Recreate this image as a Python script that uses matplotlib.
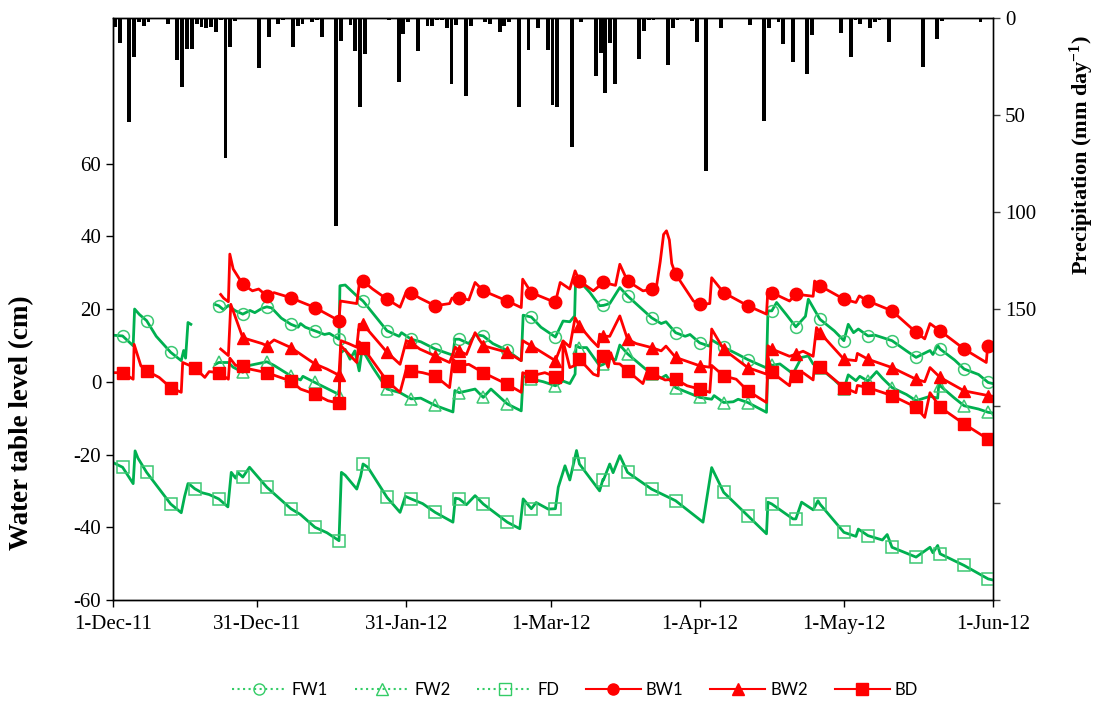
import numpy as np
import matplotlib
matplotlib.use("Agg")
import matplotlib.pyplot as plt
from matplotlib.lines import Line2D

plt.rcParams['font.family'] = ['Liberation Serif', 'DejaVu Serif']
plt.rcParams['mathtext.fontset'] = 'custom'
plt.rcParams['mathtext.rm'] = 'Liberation Serif:bold'
plt.rcParams['mathtext.default'] = 'rm'
plt.rcParams['axes.unicode_minus'] = False

# daily precipitation (mm/day), days counted from 1-Dec-2011
rain_day = [0, 1, 3, 4, 5, 6, 7, 11, 13, 14, 15, 16, 17, 18, 19, 20, 21, 22, 23, 24, 25,
            30, 32, 34, 35, 37, 38, 39, 41, 42, 43, 46, 47, 49, 50, 51, 52, 57, 59, 60, 61,
            63, 65, 66, 67, 68, 69, 70, 71, 73, 74, 77, 78, 80, 81, 82, 84, 86, 88, 90, 91,
            92, 95, 97, 100, 101, 102, 103, 104, 109, 110, 111, 112, 115, 116, 117, 120, 121,
            123, 126, 132, 135, 136, 138, 139, 141, 144, 145, 151, 153, 154, 155, 157, 158,
            159, 161, 168, 171, 172, 177, 178, 180]
rain_mm = [4.5, 13, 53.6, 20, 2, 4, 2, 3, 21.6, 35.5, 16, 16, 3, 4.5, 5, 4.5, 7, 1, 72, 15, 1.5,
           26, 10, 3, 1, 15, 4, 3, 2, 1, 10, 107, 12, 3.5, 17, 46, 18.5, 1, 33, 8, 2,
           17, 4, 4, 1, 1, 5, 34, 3.5, 40, 4, 2, 3, 7, 4, 2, 46, 16.5, 5, 16.5, 45,
           46, 66.5, 2, 30, 18, 38.6, 13, 34, 21, 6.5, 1, 1, 24, 5, 1, 1.5, 12.5,
           79, 5, 3.5, 53, 5, 2, 13.5, 22.5, 29, 9, 7.5, 20, 1, 3, 5, 2,
           1, 12.5, 25, 11, 1.5, 0.5, 0.5, 2]

# water table level (cm) at breakpoints of each well record
fw1_day = [0, 2, 4.2, 4.5, 5.5, 7, 9, 12, 14.2, 14.7, 15.1, 15.6, 16.2, np.nan,
           21.1, 22, 23, 24, 24.6, 25.5, 27, 28.5, 29.5, 31, 32, 33, 35, 37, 38.5, 39, 40, 42,
           44, 45, 47, 47.2, 48.3, 50.7, 52, 57, 59.5, 60, 62, 64, 67, 70.7, 71.1, 72, 74,
           75.3, 77, 79, 82, 84.9, 85.3, 87, 89, 92, 93.6, 95, 96, 96.2, 97, 99.2, 101.2, 102,
           103.3, 105.4, 107, 112, 114, 115, 117, 119, 120, 122, 124, 124.5, 127, 130, 132,
           135.9, 136.2, 137, 138, 140, 142, 144, 144.6, 147, 150, 152, 152.9, 154, 155, 157,
           158.5, 162, 165, 167, 169.9, 170.5, 171.5, 172, 175, 177, 180, 182, 183]
fw1_lvl = [12.8, 12.6, 9.9, 20.0, 18.5, 16.8, 12.5, 8.1, 5.8, 8.6, 6.5, 16.3, 15.8, np.nan,
           21.3, 20.9, 19.8, 21.0, 20.3, 19.5, 18.6, 19.6, 19.0, 20.2, 20.6, 20.3, 17.5, 15.8, 15.0, 16.0, 15.0, 14.0,
           13.0, 13.3, 11.7, 26.4, 26.6, 23.6, 22.2, 14.0, 12.5, 13.5, 11.7, 11.0, 9.0, 7.3, 11.7, 11.7, 10.5,
           13.0, 12.6, 10.5, 8.6, 5.8, 18.3, 17.8, 15.0, 12.3, 16.7, 16.5, 18.1, 28.0, 27.7, 24.5, 20.9, 21.0,
           21.5, 25.9, 23.6, 17.6, 16.0, 16.5, 13.5, 12.5, 13.0, 10.7, 9.8, 11.5, 9.5, 7.5, 6.1,
           3.8, 19.5, 19.5, 21.8, 18.5, 15.1, 18.0, 22.7, 17.2, 14.0, 11.3, 15.8, 13.5, 14.5, 12.6,
           12.8, 11.3, 8.5, 6.7, 8.6, 7.5, 10.0, 9.0, 6.0, 3.5, 2.0, -0.2, -0.5]

fw2_day = [21.3, 22, 24, 25, 27, 28.4, 31.3, 32, 33.5, 37, 39, 39.5, 42, 44, 47, 47.4, 48.3,
           49.3, 50.3, 51.2, 51.8, 54, 57, 59.7, 62, 64, 67, 70.7, 71.1, 72, 75.3, 77, 78.6, 82,
           84.9, 85.3, 87, 89.5, 92, 93.6, 95, 96.1, 96.3, 97, 98.5, 101.2, 102, 103.3, 104.5,
           105.4, 107, 112, 114, 115, 117, 122, 124.5, 125, 127, 129, 130, 132, 135.9, 136.2,
           137, 138.7, 141.4, 143.2, 144.6, 145.6, 147, 150, 152, 152.9, 154.5, 155.3, 157,
           158.8, 160, 162, 165, 167, 169.9, 171.5, 171.8, 172, 175, 177, 180, 182, 183]
fw2_lvl = [4.8, 5.3, 5.3, 4.0, 2.6, 4.5, 5.3, 5.5, 4.5, 1.6, 0.5, 1.5, -0.2, -1.5, -3.5, 8.0, 8.9,
           6.2, 8.5, 3.0, 8.9, 4.0, -2.0, -3.0, -4.7, -4.5, -6.5, -8.3, -2.4, -3.0, -2.0, -4.3, -2.0, -6.1,
           -8.0, 1.5, 0.8, 0.0, -1.1, 0.2, -0.5, 2.1, 10.0, 9.4, 9.4, 4.4, 4.8, 6.5, 6.0,
           10.1, 7.7, 2.1, 1.0, 1.8, -1.6, -4.3, -4.8, -3.8, -5.7, -5.5, -4.8, -5.7, -8.4, 5.3,
           4.5, 4.9, 2.2, 6.7, 7.1, 4.9, 3.8, 0.5, -2.0, 1.9, 0.3, 1.5, 0.2,
           2.8, 1.0, -1.6, -3.5, -5.2, -4.0, -4.5, 0.5, -1.1, -4.5, -6.6, -7.5, -8.4, -8.6]

fd_day = [0, 2, 4.2, 4.6, 5.2, 7, 12, 14.2, 14.9, 15.6, 16.2, 17, 18.5, 20, 22, 23.9, 24.6,
          25.5, 26, 27, 28.4, 32, 37, 39, 42, 44.5, 46.8, 47, 47.5, 48.3, 50.7, 51.5, 52, 53,
          57, 59.7, 60.8, 62, 64.4, 67, 70.7, 71.2, 72, 73.5, 75.3, 77, 82, 84.6, 85.3, 87, 88,
          90.5, 92, 92.6, 94, 95, 96.4, 97, 101.2, 101.9, 102, 103.3, 104, 105.4, 107, 112,
          117, 122.7, 124.5, 127, 132, 135.9, 136.2, 137, 141.4, 142, 143.2, 145.6, 146.6,
          147, 152, 154.5, 155, 157, 160, 161, 162, 167, 169.9, 170.5, 171.5, 172, 177, 182, 183]
fd_lvl = [-22.2, -23.5, -28.0, -19.0, -21.0, -24.9, -33.6, -36.0, -31.5, -28.0, -28.5, -29.4, -30.5, -31.0, -32.2, -34.4, -24.9,
          -26.5, -25.0, -26.2, -23.5, -29.0, -34.9, -36.5, -40.0, -41.5, -43.5, -43.7, -24.9, -25.7, -29.5, -26.0, -22.6, -23.5,
          -31.8, -35.9, -31.5, -32.2, -33.5, -35.9, -38.6, -32.0, -32.2, -33.8, -31.3, -33.6, -38.6, -40.4, -32.2, -34.9, -33.2,
          -35.0, -34.9, -29.0, -23.1, -27.0, -18.9, -22.6, -30.0, -26.8, -27.0, -22.6, -25.0, -20.3, -24.9, -29.5,
          -32.7, -38.6, -23.6, -30.4, -36.8, -41.8, -33.1, -33.6, -37.7, -37.7, -33.1, -35.2, -32.7,
          -33.6, -41.4, -42.5, -40.5, -42.3, -43.5, -42.0, -45.5, -48.2, -45.5, -47.0, -45.0, -47.3, -50.5, -54.2, -54.5]

bw1_day = [22.4, 23, 24, 24.3, 25, 27, 29, 30.3, 32, 33.5, 37, 39, 42, 44.5, 47, 47.3, 50.7,
           51.3, 52, 54, 57, 59.7, 61, 62, 63.8, 67, 70, 70.5, 72, 74, 75.3, 77, 82, 84.9, 85.2,
           87, 92, 93, 95, 96.1, 97, 99.9, 102, 104.5, 105.4, 107, 110.2, 112, 113, 113.8, 114.5,
           115.1, 115.7, 116.2, 117, 120.7, 122, 124.1, 124.5, 127, 132, 135.9, 136.2, 137, 140.7,
           142, 145.6, 145.9, 147, 152, 154.5, 155.2, 157, 162, 167, 168.8, 169.9, 172, 177,
           181.6, 181.9, 182, 183]
bw1_lvl = [24.0, 23.0, 22.0, 35.1, 31.0, 26.8, 25.0, 25.5, 23.6, 24.5, 23.1, 22.0, 20.4, 18.6, 16.8, 22.2, 21.5,
           27.7, 27.7, 25.5, 22.7, 20.5, 24.8, 24.5, 23.0, 20.9, 21.5, 23.0, 23.1, 22.5, 27.3, 25.0, 22.2, 20.4, 28.2,
           24.5, 21.8, 27.3, 25.5, 30.5, 27.7, 25.0, 27.3, 26.5, 32.3, 27.7, 25.0, 25.4, 26.0, 33.0, 40.5,
           41.5, 39.0, 32.5, 29.6, 22.2, 21.3, 21.5, 28.6, 24.5, 20.9, 18.6, 25.4, 24.5, 22.2,
           24.1, 23.5, 27.7, 26.4, 22.7, 21.8, 23.6, 22.2, 19.5, 13.6, 11.8, 16.0, 14.0, 9.0,
           5.3, 9.9, 9.9, 9.5]

bw2_day = [22.4, 24, 24.5, 27, 28.5, 31, 32, 33.5, 37, 38, 42, 44.5, 47, 47.4, 49, 50.7, 51.2,
           52, 57, 59.7, 61, 62, 63.8, 67, 70, 71.2, 72, 73.5, 75.3, 77, 82, 84.9, 85.2, 87, 92,
           93.6, 95, 96.1, 97, 99.5, 100.9, 101.2, 102, 103.3, 105.4, 107, 108.8, 112, 114, 115,
           117, 122, 124.1, 124.5, 127, 132, 135.9, 136.2, 137, 140.7, 142, 143.5, 145.6, 146.3,
           147, 152, 154.5, 154.8, 157, 162, 167, 168.8, 169.9, 172, 177, 182, 183]
bw2_lvl = [9.0, 7.2, 21.3, 12.1, 11.5, 10.5, 9.9, 11.5, 9.4, 8.5, 4.9, 3.5, 1.8, 11.3, 10.5, 9.5, 15.8,
           15.8, 8.1, 4.8, 11.3, 10.8, 9.0, 7.1, 5.3, 9.5, 8.5, 7.5, 13.5, 9.9, 8.1, 5.8, 11.3, 9.9, 5.8,
           11.2, 9.6, 17.6, 15.4, 11.5, 9.6, 13.1, 12.5, 12.5, 18.1, 11.7, 10.5, 9.4, 8.5, 9.8,
           6.7, 4.4, 4.0, 14.5, 8.9, 3.9, 2.1, 9.9, 9.0, 7.0, 7.6, 8.4, 7.0, 14.9,
           13.5, 6.2, 5.8, 7.8, 6.2, 3.9, 0.7, 0.0, 3.9, 1.2, -2.5, -3.8, -4.0]

bd_day = [0, 2, 4.2, 4.4, 5.8, 7, 9.6, 12, 14.2, 14.5, 17, 19.1, 20, 22, 24, 24.3, 25.5, 27,
          28.4, 32, 33.5, 37, 39, 42, 44.7, 47, 47.4, 50.7, 51.2, 52, 57, 59.7, 61, 62, 64.4, 67,
          70, 70.7, 72, 74, 77, 82, 84.9, 85.2, 87, 89.8, 92, 93.5, 93.6, 95, 96.1, 96.2, 97,
          99.9, 100.9, 101.2, 102, 103, 103.5, 104.3, 105.4, 107, 110.2, 111, 112, 114.8, 117,
          119.4, 122, 124.1, 124.5, 127, 129.6, 132, 135.9, 136.2, 137, 140.7, 141, 142, 143.5,
          145.6, 145.9, 147, 152, 154.5, 154.8, 157, 162, 167, 168.8, 169.9, 172, 177, 182, 183]
bd_lvl = [2.5, 2.5, 0.7, 10.3, 4.4, 3.0, 1.2, -1.6, -2.9, 5.3, 3.9, 1.2, 2.8, 2.5, 0.7, 6.5, 4.5, 4.4,
          3.5, 2.5, 1.8, 0.2, -2.0, -3.4, -5.2, -5.9, 9.9, 5.3, 11.0, 9.4, 0.2, -2.9, 3.5, 3.0, 2.5, 1.6,
          -1.6, 6.2, 4.4, 4.8, 2.5, -0.7, -2.9, 2.5, 1.6, 2.5, 1.4, 0.5, 11.2, 3.9, 4.5, 7.5, 6.2,
          2.1, 1.6, 7.6, 7.1, 4.0, 8.0, 5.0, 4.9, 3.0, -0.5, 2.6, 2.4, 0.5, 0.7,
          -1.1, -2.0, -2.9, 4.5, 1.6, 0.7, -2.5, -5.7, 7.0, 2.6, -1.1, 1.5, 1.6, 2.5,
          0.5, 5.0, 4.0, -1.6, -3.0, -1.0, -1.6, -3.8, -7.0, -9.8, -3.0, -7.0, -11.6, -15.8, -16.0]

tick_days = [0, 30, 61, 91, 122, 152, 183]
tick_labels = ['1-Dec-11', '31-Dec-11', '31-Jan-12', '1-Mar-12', '1-Apr-12', '1-May-12', '1-Jun-12']

GREEN = '#00B050'
GREEN_MK = '#3CC873'
RED = '#FF0000'

# markers are shown every 5 days
marker_days = set(range(2, 183, 5))


def marks(days):
    return [i for i, d in enumerate(days) if d in marker_days]


fig = plt.figure(figsize=(11.01, 7.04), dpi=100)
ax = fig.add_axes([0.1026, 0.1477, 0.7993, 0.8267])
ax2 = ax.twinx()

# precipitation bars hang from the top on the right axis
ax2.bar(rain_day, rain_mm, width=0.8, align='edge', color='black', linewidth=0)
ax2.set_ylim(300, 0)
ax2.set_yticks([0, 50, 100, 150, 200, 250, 300])
ax2.set_yticklabels(['0', '50', '100', '150', '', '', ''])

ax.set_zorder(ax2.get_zorder() + 1)
ax.patch.set_visible(False)

series = [
    (fw1_day, fw1_lvl, 'o', True),
    (fw2_day, fw2_lvl, '^', True),
    (fd_day, fd_lvl, 's', True),
    (bw1_day, bw1_lvl, 'o', False),
    (bw2_day, bw2_lvl, '^', False),
    (bd_day, bd_lvl, 's', False),
]
for days, lvl, mk, green in series:
    if green:
        ax.plot(days, lvl, color=GREEN, lw=2.0, marker=mk, markevery=marks(days),
                ms=8.5, mfc='none', mec=GREEN_MK, mew=1.1)
    else:
        ax.plot(days, lvl, color=RED, lw=2.0, marker=mk, markevery=marks(days),
                ms=9, mfc=RED, mec=RED)

ax.set_xlim(0, 183)
ax.set_ylim(-60, 100)
ax.set_yticks(range(-60, 61, 20))
ax.set_xticks(tick_days)
ax.set_xticklabels(tick_labels)

for a in (ax, ax2):
    a.tick_params(direction='out', length=5, width=1, labelsize=15)
    for s in a.spines.values():
        s.set_linewidth(1.0)
ax2.spines['right'].set_color('#404040')
ax2.tick_params(axis='y', colors='#404040', labelcolor='black')
ax.tick_params(axis='x', pad=6)

fig.text(0.020, 0.40, 'Water table level (cm)', rotation=90, ha='center', va='center',
         fontsize=19.5, fontweight='bold')
fig.text(0.983, 0.78, r'Precipitation (mm day$^{-1}$)', rotation=90, ha='center', va='center',
         fontsize=16, fontweight='bold')

names = ['FW1', 'FW2', 'FD', 'BW1', 'BW2', 'BD']
handles = []
for (days, lvl, mk, green), name in zip(series, names):
    if green:
        handles.append(Line2D([], [], color='#33CC66', lw=1.5, ls=':', marker=mk, ms=8,
                              mfc='none', mec='#33CC66', label=name))
    else:
        handles.append(Line2D([], [], color=RED, lw=1.5, marker=mk, ms=8, mfc=RED, mec=RED,
                              label=name))
fig.legend(handles=handles, loc='center', bbox_to_anchor=(0.522, 0.02), ncol=6, frameon=False,
           prop={'family': 'Lato', 'size': 12}, handlelength=3.3, handletextpad=0.3,
           columnspacing=1.6)

fig.savefig('out.png', dpi=100)
